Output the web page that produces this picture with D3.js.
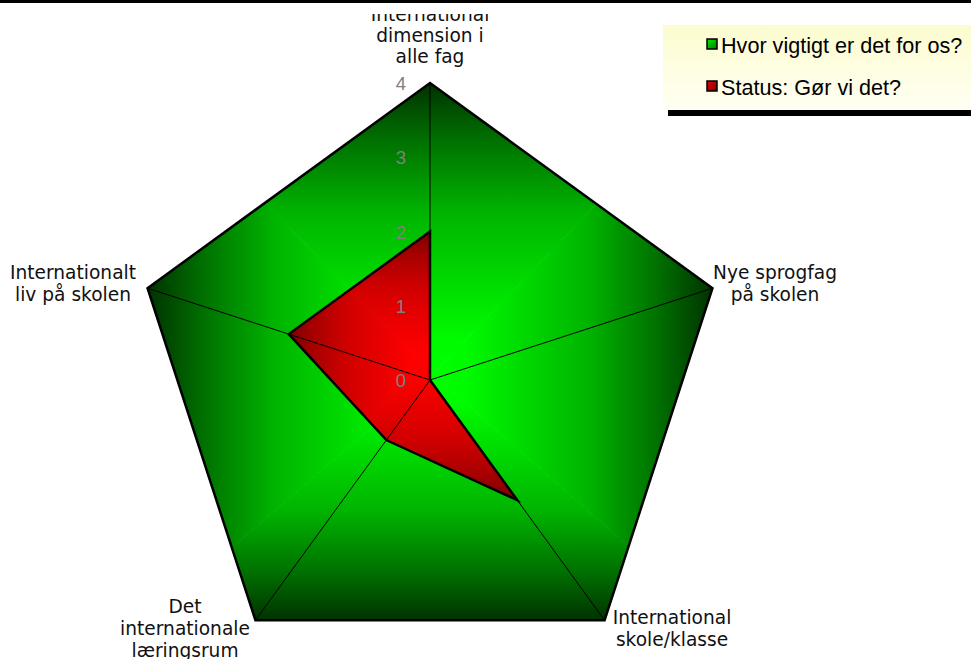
<!DOCTYPE html>
<html><head><meta charset="utf-8">
<script src="https://cdn.jsdelivr.net/npm/d3@7"></script>
<style>body{margin:0;background:#fff}svg{display:block}</style>
</head><body>
<svg id="c" width="971" height="659"></svg>
<script>
const categories = [
  ["International","dimension i","alle fag"],
  ["Nye sprogfag","på skolen"],
  ["International","skole/klasse"],
  ["Det","internationale","læringsrum"],
  ["Internationalt","liv på skolen"]
];
const seriesNames = ["Hvor vigtigt er det for os?","Status: Gør vi det?"];
const importance = [4,4,4,4,4];
const status = [2,0,2,1,2];
const ticks = [0,1,2,3,4];

const svg = d3.select("#c");
const defs = svg.append("defs");
const cx = 430, cy = 380;
const r = d3.scaleLinear().domain([0,4]).range([0,297]);
const ang = d3.scaleLinear().domain([0,5]).range([0,2*Math.PI]);
const pt = (v,i)=>[cx + r(v)*Math.sin(ang(i)), cy - r(v)*Math.cos(ang(i))];

let gid = 0;
function rectGradPoly(values, stops, center){
  const pts = values.map((v,i)=>pt(v,i));
  const xs = pts.map(p=>p[0]), ys = pts.map(p=>p[1]);
  const x0=d3.min(xs)-2, x1=d3.max(xs)+2, y0=d3.min(ys)-2, y1=d3.max(ys)+2;
  const mx=center[0], my=center[1];
  const id = "cp"+(gid++);
  defs.append("clipPath").attr("id",id).append("path").attr("d",d3.line()(pts)+"Z");
  const g = svg.append("g").attr("clip-path",`url(#${id})`);
  const sides = [
    {tri:[[mx,my],[x0,y0],[x1,y0]], end:[mx,y0]},
    {tri:[[mx,my],[x1,y0],[x1,y1]], end:[x1,my]},
    {tri:[[mx,my],[x1,y1],[x0,y1]], end:[mx,y1]},
    {tri:[[mx,my],[x0,y1],[x0,y0]], end:[x0,my]}
  ];
  sides.forEach(s=>{
    const lid = "lg"+(gid++);
    const lg = defs.append("linearGradient").attr("id",lid).attr("gradientUnits","userSpaceOnUse")
      .attr("x1",mx).attr("y1",my).attr("x2",s.end[0]).attr("y2",s.end[1]);
    stops.forEach(st=>lg.append("stop").attr("offset",st[0]).attr("stop-color",st[1]));
    g.append("path").attr("d",d3.line()(s.tri)+"Z").attr("fill",`url(#${lid})`)
      .attr("stroke",`url(#${lid})`).attr("stroke-width",0.8);
  });
  return pts;
}

const gPts = rectGradPoly(importance,
  [[0,"#00ff00"],[0.12,"#00fa00"],[0.55,"#00b400"],[0.8,"#007000"],[1,"#003000"]], [433,374]);
const rPts = rectGradPoly(status,
  [[0,"#ff0000"],[0.12,"#fc0000"],[0.55,"#d20000"],[0.8,"#a80000"],[1,"#780000"]], [424,362]);

// axis spokes
svg.append("g").selectAll("line").data(categories).join("line")
  .attr("x1",cx).attr("y1",cy)
  .attr("x2",(d,i)=>pt(4,i)[0]).attr("y2",(d,i)=>pt(4,i)[1])
  .attr("stroke","#000").attr("stroke-width",1);

// outlines
svg.append("path").attr("d",d3.line()(gPts)+"Z").attr("fill","none").attr("stroke","#000").attr("stroke-width",2.5).attr("stroke-linejoin","miter");
svg.append("path").attr("d",d3.line()(rPts)+"Z").attr("fill","none").attr("stroke","#000").attr("stroke-width",2.5).attr("stroke-linejoin","miter");

// tick labels
svg.append("g").selectAll("text").data(ticks).join("text")
  .attr("x",cx-24).attr("y",d=>cy - r(d) + 7)
  .attr("text-anchor","end").attr("fill","#808080")
  .attr("font-family","Liberation Sans, Arial, sans-serif").attr("font-size",18.5)
  .text(d=>d);

// category labels
const labelPos = [
  {x:430, y:21, anchor:"middle"},
  {x:775, y:279, anchor:"middle"},
  {x:672, y:624, anchor:"middle"},
  {x:185, y:613, anchor:"middle"},
  {x:73,  y:279, anchor:"middle"}
];
const lab = svg.append("g").attr("font-family","DejaVu Sans, Verdana, sans-serif").attr("font-size",18.6).attr("fill","#111");
categories.forEach((lines,i)=>{
  const p = labelPos[i];
  const lh = i===0 ? 21 : 22;
  const t = lab.append("text").attr("text-anchor",p.anchor);
  lines.forEach((l,j)=>t.append("tspan").attr("x",p.x).attr("y",p.y + j*lh).text(l));
});

// top clip / border
svg.append("rect").attr("x",0).attr("y",0).attr("width",971).attr("height",14).attr("fill","#fff");
svg.append("rect").attr("x",0).attr("y",0).attr("width",971).attr("height",3).attr("fill","#000");

// legend
const lgd = defs.append("linearGradient").attr("id","legbg").attr("x1",0).attr("y1",0).attr("x2",0).attr("y2",1);
lgd.append("stop").attr("offset",0).attr("stop-color","#fcfccf");
lgd.append("stop").attr("offset",1).attr("stop-color","#fffff4");
svg.append("rect").attr("x",668).attr("y",30).attr("width",310).attr("height",86).attr("fill","#000");
svg.append("rect").attr("x",663).attr("y",25).attr("width",310).attr("height",85).attr("fill","url(#legbg)");
const legColors = [["#00ee00","#007700"],["#ee0000","#770000"]];
legColors.forEach((c,i)=>{
  const sg = defs.append("linearGradient").attr("id","sw"+i).attr("x1",0).attr("y1",0).attr("x2",1).attr("y2",1);
  sg.append("stop").attr("offset",0).attr("stop-color",c[0]);
  sg.append("stop").attr("offset",1).attr("stop-color",c[1]);
});
const legItems = svg.append("g").selectAll("g").data(seriesNames).join("g")
  .attr("transform",(d,i)=>`translate(0,${i*42})`);
legItems.append("rect").attr("x",707).attr("y",39).attr("width",10).attr("height",10)
  .attr("fill",(d,i)=>`url(#sw${i})`).attr("stroke","#000").attr("stroke-width",1.5);
legItems.append("text").attr("x",721).attr("y",53)
  .attr("font-family","Liberation Sans, Arial, sans-serif").attr("font-size",21.6).attr("fill","#000")
  .text(d=>d);
</script>
</body></html>
